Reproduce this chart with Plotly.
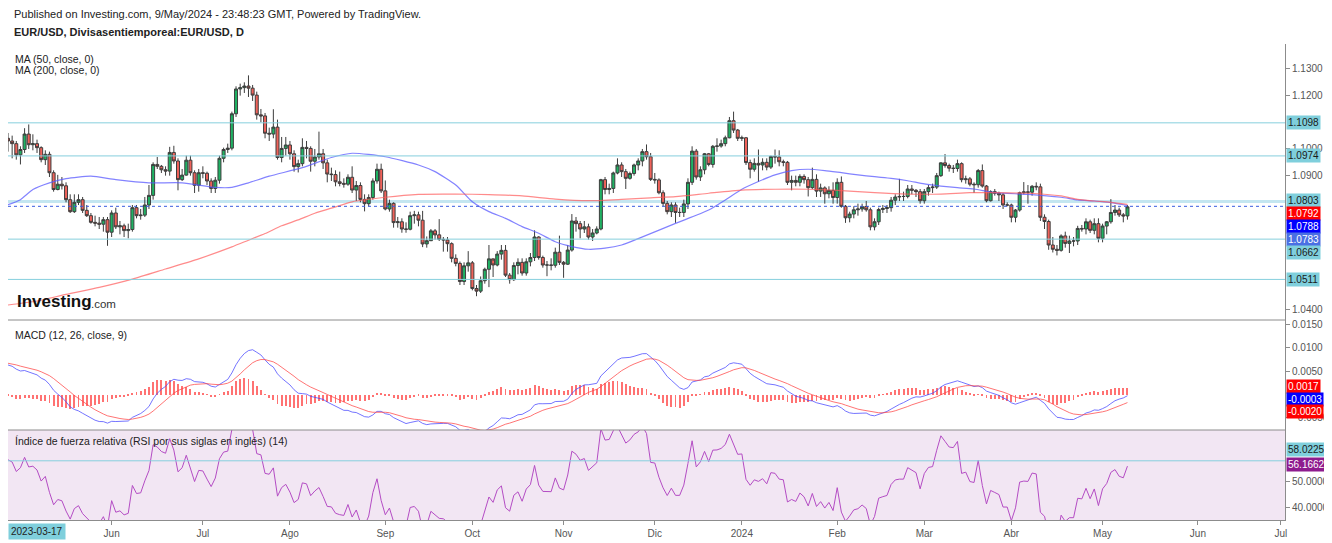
import pandas as pd
import plotly.graph_objects as go
from plotly.subplots import make_subplots

# ---------------- DATA ----------------
dates = pd.bdate_range("2023-04-27", "2024-05-09") + pd.Timedelta(hours=12)

first_open = 1.1040
close = [
1.1030,1.1020,1.0978,1.0998,1.1056,1.1016,1.1020,1.1005,1.0960,1.0980,
1.0911,1.0848,1.0868,1.0862,1.0810,1.0765,1.0800,1.0810,1.0770,1.0750,
1.0725,1.0722,1.0718,1.0735,1.0688,1.0760,1.0708,1.0712,1.0694,1.0698,
1.0780,1.0750,1.0752,1.0790,1.0826,1.0942,1.0935,1.0922,1.0917,1.0987,
1.0955,1.0885,1.0902,1.0958,1.0911,1.0864,1.0911,1.0909,1.0880,1.0852,
1.0883,1.0965,1.0998,1.1003,1.1132,1.1225,1.1230,1.1236,1.1228,1.1202,
1.1128,1.1124,1.1059,1.1056,1.1082,1.0968,1.1002,1.1015,1.0982,1.0934,
1.0945,1.1006,1.1002,1.0954,1.0970,1.0982,1.0948,1.0906,1.0904,1.0877,
1.0871,1.0868,1.0894,1.0846,1.0863,1.0811,1.0795,1.0818,1.0880,1.0924,
1.0843,1.0775,1.0796,1.0724,1.0727,1.0700,1.0699,1.0750,1.0753,1.0733,
1.0644,1.0656,1.0693,1.0678,1.0661,1.0659,1.0645,1.0590,1.0571,1.0503,
1.0562,1.0573,1.0477,1.0467,1.0506,1.0549,1.0588,1.0565,1.0606,1.0620,
1.0527,1.0510,1.0563,1.0575,1.0535,1.0577,1.0593,1.0670,1.0593,1.0565,
1.0565,1.0564,1.0613,1.0575,1.0568,1.0621,1.0730,1.0720,1.0700,1.0708,
1.0670,1.0685,1.0700,1.0885,1.0848,1.0852,1.0910,1.0940,1.0915,1.0890,
1.0908,1.0940,1.0955,1.0990,1.0971,1.0886,1.0884,1.0836,1.0796,1.0765,
1.0790,1.0762,1.0762,1.0794,1.0875,1.0992,1.0895,1.0922,1.0982,1.0942,
1.1010,1.1011,1.1020,1.1042,1.1106,1.1071,1.1040,1.1042,1.0949,1.0924,
1.0946,1.0940,1.0950,1.0932,1.0972,1.0970,1.0952,1.0950,1.0875,1.0882,
1.0875,1.0897,1.0885,1.0855,1.0886,1.0842,1.0854,1.0832,1.0845,1.0818,
1.0875,1.0785,1.0742,1.0756,1.0772,1.0775,1.0784,1.0772,1.0708,1.0727,
1.0773,1.0777,1.0780,1.0808,1.0820,1.0822,1.0822,1.0850,1.0845,1.0840,
1.0806,1.0840,1.0855,1.0857,1.0900,1.0948,1.0938,1.0928,1.0927,1.0945,
1.0885,1.0888,1.0868,1.0866,1.0919,1.0861,1.0806,1.0840,1.0834,1.0828,
1.0790,1.0790,1.0744,1.0771,1.0836,1.0839,1.0838,1.0860,1.0858,1.0744,
1.0728,1.0640,1.0624,1.0620,1.0674,1.0646,1.0655,1.0655,1.0702,1.0700,
1.0727,1.0695,1.0720,1.0665,1.0711,1.0727,1.0762,1.0771,1.0753,1.0749,
1.0783]
high = [
1.1060,1.1050,1.1030,1.1010,1.1078,1.1092,1.1055,1.1035,1.1010,1.0995,
1.0990,1.0920,1.0903,1.0895,1.0875,1.0830,1.0830,1.0830,1.0820,1.0790,
1.0760,1.0750,1.0745,1.0745,1.0745,1.0770,1.0780,1.0730,1.0720,1.0720,
1.0790,1.0790,1.0775,1.0820,1.0865,1.0950,1.0970,1.0940,1.0935,1.1008,
1.1012,1.0965,1.0925,1.0975,1.0975,1.0920,1.0925,1.0935,1.0915,1.0890,
1.0895,1.0975,1.1005,1.1020,1.1140,1.1235,1.1245,1.1250,1.1276,1.1240,
1.1215,1.1150,1.1135,1.1080,1.1149,1.1110,1.1045,1.1045,1.1030,1.0995,
1.0960,1.1040,1.1030,1.1010,1.1000,1.1065,1.1000,1.0960,1.0930,1.0920,
1.0915,1.0890,1.0905,1.0935,1.0880,1.0875,1.0830,1.0830,1.0890,1.0945,
1.0945,1.0882,1.0810,1.0800,1.0745,1.0740,1.0725,1.0765,1.0768,1.0765,
1.0768,1.0672,1.0700,1.0700,1.0737,1.0670,1.0670,1.0650,1.0605,1.0578,
1.0575,1.0617,1.0580,1.0490,1.0522,1.0555,1.0640,1.0580,1.0617,1.0640,
1.0640,1.0535,1.0575,1.0590,1.0590,1.0590,1.0610,1.0695,1.0673,1.0600,
1.0580,1.0590,1.0630,1.0675,1.0580,1.0640,1.0756,1.0745,1.0730,1.0730,
1.0720,1.0700,1.0710,1.0888,1.0895,1.0870,1.0915,1.0965,1.0950,1.0925,
1.0915,1.0945,1.0965,1.1000,1.1017,1.0985,1.0910,1.0890,1.0845,1.0805,
1.0800,1.0800,1.0780,1.0810,1.0890,1.1010,1.1000,1.0935,1.0985,1.0985,
1.1015,1.1040,1.1035,1.1050,1.1120,1.1140,1.1075,1.1050,1.1045,1.0960,
1.0965,1.0998,1.0965,1.0965,1.0975,1.0998,1.0995,1.0960,1.0955,1.0900,
1.0900,1.0905,1.0905,1.0895,1.0930,1.0905,1.0870,1.0860,1.0860,1.0875,
1.0890,1.0897,1.0790,1.0765,1.0785,1.0795,1.0795,1.0805,1.0780,1.0740,
1.0780,1.0790,1.0790,1.0820,1.0830,1.0888,1.0840,1.0865,1.0865,1.0850,
1.0850,1.0850,1.0865,1.0870,1.0910,1.0950,1.0981,1.0945,1.0940,1.0960,
1.0950,1.0900,1.0895,1.0875,1.0925,1.0942,1.0865,1.0845,1.0850,1.0840,
1.0835,1.0800,1.0795,1.0775,1.0840,1.0876,1.0865,1.0865,1.0875,1.0870,
1.0755,1.0735,1.0670,1.0640,1.0680,1.0690,1.0675,1.0670,1.0712,1.0715,
1.0740,1.0735,1.0740,1.0740,1.0720,1.0730,1.0812,1.0790,1.0780,1.0760,
1.0790]
low = [
1.0990,1.0965,1.0960,1.0942,1.0985,1.1000,1.0995,1.0985,1.0950,1.0940,
1.0895,1.0840,1.0845,1.0848,1.0800,1.0760,1.0760,1.0790,1.0760,1.0745,
1.0720,1.0710,1.0700,1.0690,1.0637,1.0670,1.0700,1.0680,1.0670,1.0665,
1.0690,1.0740,1.0735,1.0745,1.0775,1.0810,1.0925,1.0910,1.0900,1.0900,
1.0945,1.0845,1.0880,1.0900,1.0900,1.0835,1.0840,1.0890,1.0865,1.0835,
1.0835,1.0870,1.0950,1.0985,1.0995,1.1120,1.1200,1.1210,1.1195,1.1180,
1.1110,1.1100,1.1040,1.1030,1.1040,1.0960,1.0950,1.0975,1.0960,1.0915,
1.0912,1.0935,1.0965,1.0915,1.0935,1.0960,1.0925,1.0875,1.0880,1.0860,
1.0860,1.0855,1.0862,1.0835,1.0805,1.0800,1.0766,1.0785,1.0810,1.0870,
1.0835,1.0770,1.0765,1.0705,1.0705,1.0686,1.0686,1.0695,1.0720,1.0710,
1.0632,1.0630,1.0660,1.0660,1.0655,1.0615,1.0615,1.0575,1.0560,1.0490,
1.0490,1.0540,1.0470,1.0448,1.0460,1.0495,1.0482,1.0520,1.0560,1.0585,
1.0520,1.0495,1.0505,1.0530,1.0525,1.0525,1.0560,1.0580,1.0585,1.0555,
1.0523,1.0545,1.0555,1.0565,1.0517,1.0565,1.0615,1.0690,1.0665,1.0685,
1.0660,1.0655,1.0680,1.0695,1.0830,1.0830,1.0835,1.0905,1.0895,1.0850,
1.0885,1.0900,1.0920,1.0935,1.0960,1.0880,1.0870,1.0830,1.0785,1.0755,
1.0745,1.0723,1.0745,1.0745,1.0775,1.0865,1.0885,1.0880,1.0905,1.0935,
1.0930,1.0990,1.1005,1.1010,1.1040,1.1060,1.1030,1.1030,1.0940,1.0890,
1.0915,1.0877,1.0920,1.0920,1.0925,1.0945,1.0935,1.0935,1.0865,1.0845,
1.0860,1.0860,1.0870,1.0822,1.0850,1.0820,1.0820,1.0795,1.0815,1.0795,
1.0795,1.0780,1.0723,1.0725,1.0740,1.0750,1.0765,1.0765,1.0695,1.0695,
1.0715,1.0760,1.0760,1.0765,1.0790,1.0805,1.0805,1.0815,1.0830,1.0820,
1.0795,1.0795,1.0825,1.0835,1.0850,1.0895,1.0930,1.0915,1.0910,1.0915,
1.0875,1.0870,1.0860,1.0835,1.0855,1.0855,1.0800,1.0803,1.0825,1.0805,
1.0775,1.0785,1.0725,1.0725,1.0765,1.0830,1.0795,1.0825,1.0845,1.0730,
1.0700,1.0622,1.0612,1.0601,1.0615,1.0630,1.0610,1.0635,1.0640,1.0690,
1.0680,1.0685,1.0680,1.0650,1.0650,1.0680,1.0720,1.0750,1.0745,1.0725,
1.0735]
open_ = [first_open] + close[:-1]

# moving averages (bar index, value)
ma50_idx = [0,3,6,10,14,20,26,34,42,50,54,58,63,71,78,83,91,99,103,108,112,116,120,124,
            128,132,136,140,144,148,152,161,169,173,177,181,185,189,193,197,201,205,209,
            213,217,221,225,229,233,238,246,254,258,262,266,270]
ma50_val = [1.0791,1.0810,1.0848,1.0873,1.0889,1.0898,1.0885,1.0873,1.0873,1.0856,1.0856,
            1.0873,1.0898,1.0930,1.0968,1.0984,1.0971,1.0940,1.0915,1.0865,1.0802,1.0765,
            1.0740,1.0709,1.0684,1.0652,1.0634,1.0624,1.0628,1.0640,1.0664,1.0721,1.0771,
            1.0809,1.0849,1.0878,1.0903,1.0919,1.0924,1.0919,1.0911,1.0903,1.0896,1.0890,
            1.0881,1.0869,1.0861,1.0855,1.0850,1.0836,1.0830,1.0819,1.0809,1.0805,1.0799,
            1.0788]
ma200_idx = [0,7,14,22,30,38,46,54,58,62,66,70,74,78,83,91,99,108,116,124,132,140,148,155,
             161,169,177,185,193,201,209,217,225,232,238,246,254,258,262,266,270]
ma200_val = [1.0415,1.0430,1.0455,1.0481,1.0512,1.0550,1.0588,1.0633,1.0658,1.0683,1.0712,
             1.0734,1.0759,1.0778,1.0802,1.0819,1.0830,1.0831,1.0829,1.0824,1.0812,1.0806,
             1.0811,1.0817,1.0821,1.0834,1.0846,1.0849,1.0849,1.0844,1.0836,1.0831,1.0831,
             1.0836,1.0836,1.0834,1.0824,1.0811,1.0805,1.0800,1.0792]

# indicator starting states
ema12_seed, ema26_seed, signal_seed = 1.0990, 1.0925, 0.0068
rsi_gain_seed, rsi_loss_seed = 0.0032, 0.0022

# horizontal levels
level_lines = [1.1098, 1.0974, 1.0662, 1.0511]
band_level = 1.0803
price_line = 1.0785
rsi_level = 58.0225

# axis ticks
tick_dates = ["2023-06-01","2023-07-03","2023-08-01","2023-09-01","2023-10-02","2023-11-01",
              "2023-12-01","2024-01-01","2024-02-01","2024-03-01","2024-04-01","2024-05-01",
              "2024-06-03","2024-07-01"]
tick_text = ["Jun","Jul","Ago","Sep","Oct","Nov","Dic","2024","Feb","Mar","Abr","May","Jun","Jul"]
price_ticks = [1.04, 1.09, 1.10, 1.12, 1.13]
macd_ticks = [-0.005, 0.005, 0.010, 0.015]
rsi_ticks = [40, 50]

# right-side value labels: (value, text, bg, fg, yshift px)
price_tags = [(1.1098,"1.1098","#7fcfdc","#1a1a1a",0),(1.0974,"1.0974","#7fcfdc","#1a1a1a",0),
              (1.0803,"1.0803","#7fcfdc","#1a1a1a",1),(1.0792,"1.0792","#ff0000","#ffffff",-9),
              (1.0788,"1.0788","#0000ff","#ffffff",-21),(1.0783,"1.0783","#4a6fe3","#ffffff",-33),
              (1.0662,"1.0662","#7fcfdc","#1a1a1a",-13),(1.0511,"1.0511","#7fcfdc","#1a1a1a",0)]
macd_tags = [(0.0017,"0.0017","#ff0000","#ffffff",0),(-0.0003,"-0.0003","#0000ff","#ffffff",-4),
             (-0.0020,"-0.0020","#ff0000","#ffffff",-8)]
rsi_tags = [(58.0225,"58.0225","#7fcfdc","#1a1a1a",11),(56.1662,"56.1662","#8e1b8e","#ffffff",1)]

# ---------------- INDICATORS ----------------
def ema(values, span, seed):
    a = 2.0 / (span + 1)
    out, prev = [], seed
    for v in values:
        prev = prev + a * (v - prev)
        out.append(prev)
    return out

e12 = ema(close, 12, ema12_seed)
e26 = ema(close, 26, ema26_seed)
macd = [a - b for a, b in zip(e12, e26)]
signal = ema(macd, 9, signal_seed)
hist = [m - s for m, s in zip(macd, signal)]

rsi = []
ag, al, prev = rsi_gain_seed, rsi_loss_seed, first_open
for c in close:
    ch = c - prev
    ag = (ag * 13 + max(ch, 0)) / 14
    al = (al * 13 + max(-ch, 0)) / 14
    rsi.append(100 - 100 / (1 + ag / al))
    prev = c

# ---------------- FIGURE ----------------
OFF = 8                      # page offset of the figure (body margin)
W, H = 1324, 535
ML, MR, MT, MB = 0, 47, 36, 23
PH = H - MT - MB
def px(x): return (x - OFF - ML) / (W - ML - MR)
def py(y): return (H - MB - (y - OFF)) / PH

fig = make_subplots(rows=3, cols=1, shared_xaxes=True, vertical_spacing=0,
                    row_heights=[276, 110, 90])

fig.add_trace(go.Candlestick(
    x=dates, open=open_, high=high, low=low, close=close,
    increasing=dict(fillcolor="#1fb263", line=dict(color="#3d3d3d", width=1)),
    decreasing=dict(fillcolor="#f0625a", line=dict(color="#3d3d3d", width=1)),
    whiskerwidth=0, hoverinfo="skip"), row=1, col=1)

fig.add_trace(go.Scatter(x=[dates[i] for i in ma50_idx], y=ma50_val, mode="lines",
                         line=dict(color="rgba(90,90,255,0.75)", width=1.2, shape="spline", smoothing=0.6),
                         hoverinfo="skip"), row=1, col=1)
fig.add_trace(go.Scatter(x=[dates[i] for i in ma200_idx], y=ma200_val, mode="lines",
                         line=dict(color="rgba(255,90,90,0.7)", width=1.2, shape="spline", smoothing=0.6),
                         hoverinfo="skip"), row=1, col=1)

fig.add_trace(go.Bar(x=dates, y=hist, width=0.22 * 86400000,
                     marker=dict(color="#ff5050", line=dict(width=0)), opacity=0.8,
                     hoverinfo="skip"), row=2, col=1)
fig.add_trace(go.Scatter(x=dates, y=macd, mode="lines",
                         line=dict(color="rgba(70,70,255,0.75)", width=1), hoverinfo="skip"), row=2, col=1)
fig.add_trace(go.Scatter(x=dates, y=signal, mode="lines",
                         line=dict(color="rgba(255,70,70,0.75)", width=1), hoverinfo="skip"), row=2, col=1)

fig.add_trace(go.Scatter(x=dates, y=rsi, mode="lines",
                         line=dict(color="#b44cc4", width=1), hoverinfo="skip"), row=3, col=1)

shapes = []
shapes.append(dict(type="rect", xref="paper", yref="y3", x0=0, x1=1, y0=30, y1=70,
                   fillcolor="#f2e6f3", line=dict(width=0), layer="below"))
for lv in level_lines:
    shapes.append(dict(type="line", xref="paper", yref="y", x0=0, x1=1, y0=lv, y1=lv,
                       line=dict(color="#86cfdd", width=1)))
shapes.append(dict(type="line", xref="paper", yref="y", x0=0, x1=1, y0=band_level, y1=band_level,
                   line=dict(color="#c4e6f0", width=3), layer="below"))
shapes.append(dict(type="line", xref="paper", yref="y", x0=0, x1=1, y0=price_line, y1=price_line,
                   line=dict(color="#3a5be0", width=1, dash="dot")))
shapes.append(dict(type="line", xref="paper", yref="y3", x0=0, x1=1, y0=rsi_level, y1=rsi_level,
                   line=dict(color="#86cfdd", width=1)))
for ysep in (320, 430):
    shapes.append(dict(type="line", xref="paper", yref="paper", x0=0, x1=1, y0=py(ysep), y1=py(ysep),
                       line=dict(color="#8c8c8c", width=1)))

ann = []
def txt(x, y, t, size=11, color="#222", bold=False, anchor="left"):
    ann.append(dict(xref="paper", yref="paper", x=px(x), y=py(y), text=("<b>%s</b>" % t) if bold else t,
                    showarrow=False, xanchor=anchor, yanchor="middle",
                    font=dict(family="Liberation Sans, Arial", size=size, color=color)))

txt(12, 14, "Published on Investing.com, 9/May/2024 - 23:48:23 GMT, Powered by TradingView.", 11)
txt(12, 32, "EUR/USD, Divisasentiemporeal:EUR/USD, D", 11, bold=True)
txt(13, 59, "MA (50, close, 0)", 10.5)
txt(13, 70, "MA (200, close, 0)", 10.5)
txt(13, 335, "MACD (12, 26, close, 9)", 10.5)
txt(13, 441, "Índice de fuerza relativa (RSI por sus siglas en inglés) (14)", 10.5)
txt(15, 301, "Investing", 17, "#111", bold=True)
txt(89, 304, ".com", 11.5, "#333")

ann.append(dict(xref="paper", yref="paper", x=px(8), y=py(531), text="2023-03-17", showarrow=False,
                xanchor="left", yanchor="middle", bgcolor="#7fcfdc", borderpad=2,
                font=dict(family="Liberation Sans, Arial", size=10, color="#222")))

for yref, tags in (("y", price_tags), ("y2", macd_tags), ("y3", rsi_tags)):
    for val, t, bg, fg, sh in tags:
        ann.append(dict(xref="paper", yref=yref, x=1, y=val, yshift=sh, xshift=1, text=t,
                        showarrow=False, xanchor="left", yanchor="middle", bgcolor=bg, borderpad=1,
                        font=dict(family="Liberation Sans, Arial", size=10, color=fg)))

yax_common = dict(side="right", showgrid=False, zeroline=False, showline=True, linecolor="#8c8c8c",
                  ticks="outside", ticklen=4, tickcolor="#8c8c8c",
                  tickfont=dict(family="Liberation Sans, Arial", size=10, color="#555"))

fig.update_layout(
    width=W, height=H, margin=dict(l=ML, r=MR, t=MT, b=MB),
    paper_bgcolor="white", plot_bgcolor="white", showlegend=False, hovermode=False,
    boxgap=0.2, boxgroupgap=0.1, bargap=0,
    shapes=shapes, annotations=ann,
    yaxis=dict(range=[1.03588, 1.13936], tickvals=price_ticks, tickformat=".4f", **yax_common),
    yaxis2=dict(range=[-0.00762, 0.01599], tickvals=macd_ticks, tickformat=".4f", **yax_common),
    yaxis3=dict(range=[35.3, 69.85], tickvals=rsi_ticks, tickformat=".4f", **yax_common),
)

xr = ["2023-04-27 12:00", "2024-07-02 12:00"]
for i in (1, 2, 3):
    fig.update_xaxes(row=i, col=1, type="date", range=xr, rangebreaks=[dict(bounds=["sat", "mon"])],
                     rangeslider=dict(visible=False), showgrid=False, zeroline=False,
                     showline=False, showticklabels=False, ticks="")
fig.update_xaxes(row=3, col=1, showticklabels=True, ticks="outside", ticklen=4, tickcolor="#8c8c8c",
                 showline=True, linecolor="#8c8c8c",
                 tickvals=[pd.Timestamp(d) + pd.Timedelta(hours=12) for d in tick_dates],
                 ticktext=tick_text,
                 tickfont=dict(family="Liberation Sans, Arial", size=10, color="#555"))

fig.write_html("out.html", config={"displayModeBar": False})
